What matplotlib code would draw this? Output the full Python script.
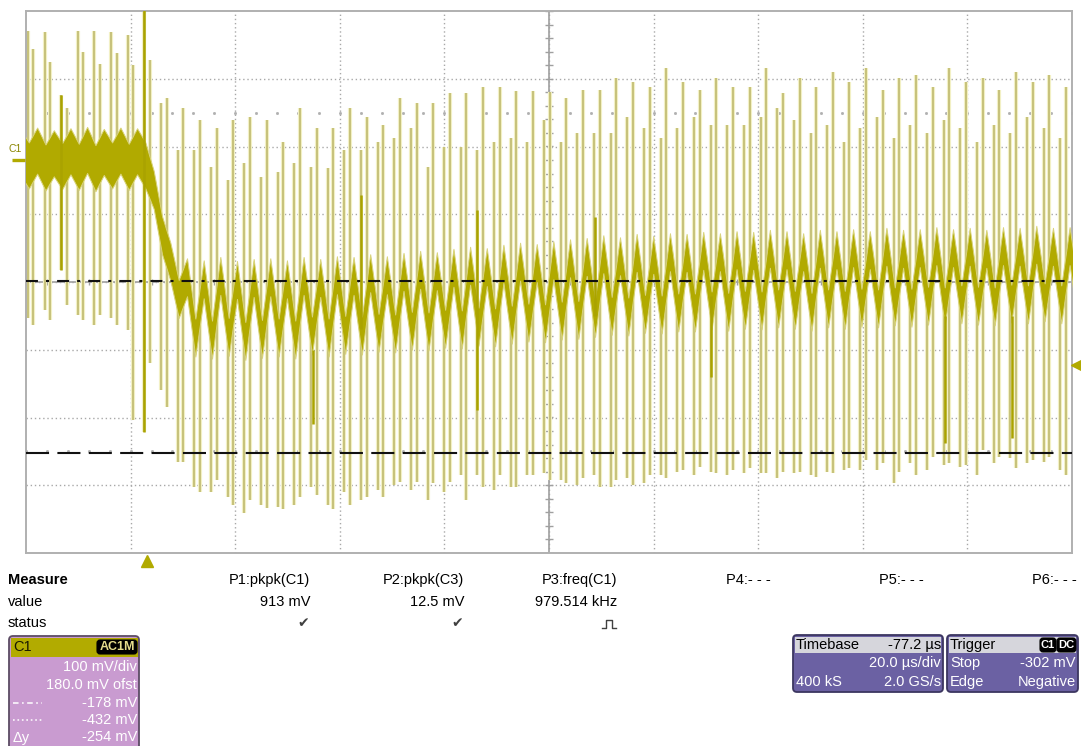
"""LeCroy-style scope capture: C1 ripple stepping down after the trigger, plus the measure panel."""
import numpy as np
import matplotlib
matplotlib.use("Agg")
import matplotlib.pyplot as plt
import matplotlib.patheffects as pe
from matplotlib.patches import FancyBboxPatch, Rectangle

plt.rcParams["font.family"] = ["Liberation Sans", "DejaVu Sans"]
plt.rcParams["lines.scale_dashes"] = False

W, H = 1081, 746

# scope settings
V_DIV, V_OFST = 100.0, 180.0          # mV/div, offset (screen centre = -offset)
T_DIV, T_LEFT = 20.0, -23.14          # us/div, time at left edge (trigger at 0)
V_CURSOR1, V_CURSOR2 = -178.0, -432.0
V_TRIG = -302.0

# ripple teeth (one per ~3.18 us), centre of the trace at each peak / following trough, mV
TOOTH_T0, TOOTH_PERIOD = 7.65, 3.184
tooth_k = np.arange(-10, 54)
peak_mv = [12, 14, 10, 13, 15, 12, 14, 13,
           -44, -150,
           -173, -176, -171, -177, -174, -173, -176, -171, -174, -170,
           -171, -167, -170, -165, -162, -164, -159, -156, -158, -153,
           -150, -152, -148, -145, -143, -139, -142, -137, -140, -136,
           -137, -134, -136, -133, -134, -131, -133, -136, -131, -133,
           -130, -133, -128, -131, -130, -127, -130, -128, -131, -127, -128, -125, -128, -127]
trough_mv = [-8, -11, -9, -10, -12, -8, -10, -8,
             -111, -205,
             -262, -265, -261, -267, -264, -262, -265, -259, -262, -258,
             -259, -255, -256, -252, -253, -249, -250, -246, -247, -243,
             -240, -241, -237, -236, -233, -230, -231, -227, -228, -225,
             -225, -222, -224, -221, -222, -219, -221, -224, -219, -221,
             -218, -219, -216, -218, -215, -216, -213, -215, -216, -212, -213, -210, -213, -212]

# switching spikes, a pair per tooth: tops / bottoms in mV
spike_a_top = [190, 190, 189, 96, 190, 190, 189, 185,
               230, 84,
               15, 15, -10, -29, -4, -25, -18, -4, -10, -12,
               15, 15, 27, 33, 47, -10, 19, 19, 15, 27,
               33, 27, 59, 27, 40, 40, 40, 64, 47, 33,
               47, 64, 52, 52, 52, 64, 77,
               59, 40, 52, 27, 47, 64, 33, 52, 40, 59, 47, 27, 52, 40, 64, 47, 33]
spike_b_top = [160, 164, 145, 77, 160, 142, 158, 140,
               148, 92,
               77, 59, 47, 59, 64, 59, 27, 77, 47, 47,
               77, 64, 52, 92, 84, 84, 99, 99, 108, 108,
               102, 102, 100, 92, 103, 103, 121, 115, 108, 136,
               115, 103, 121, 108, 108, 136, 99,
               121, 108, 130, 115, 136, 103, 121, 126, 108, 136, 115, 121, 103, 130, 115, 126, 108]
spike_a_bot = [-236, -233, -221, -162, -229, -243, -233, -251,
               -401, -339,
               -446, -483, -490, -497, -521, -509, -512, -509, -483, -509,
               -490, -502, -487, -479, -487, -502, -490, -465, -465, -487,
               -483, -465, -462, -472, -479, -465, -483, -469, -476, -465,
               -460, -465, -460, -465, -462, -462, -469,
               -462, -465, -460, -457,
               -457, -457, -476, -447, -457, -450, -453, -465, -447, -440, -447, -446, -457]
spike_b_bot = [-229, -243, -236, -214, -236, -229, -243, -384,
               -300, -364,
               -446, -490, -472, -509, -502, -514, -515, -497, -494, -515,
               -509, -497, -497, -475, -475, -476, -475, -502, -483, -465,
               -483, -465, -472, -476, -469, -483, -472, -479, -465, -469,
               -457, -453, -462, -457, -455, -462, -460,
               -460, -468, -462, -455,
               -443, -447, -460, -465, -438, -447, -450, -428, -438, -455, -443, -438, -465]

# heavier excursions of the trace itself (trigger event included)
glitch_t = [-16.4, -0.5, 31.7, 40.9, 63.1, 85.7, 107.8, 152.6, 165.4]
glitch_lo = [-162, -401, -390, -250, -369, -230, -320, -418, -410]
glitch_hi = [96, 230, -280, -52, -74, -84, -200, -230, -230]

measure_names = ["P1:pkpk(C1)", "P2:pkpk(C3)", "P3:freq(C1)", "P4:- - -", "P5:- - -", "P6:- - -"]
measure_values = ["913 mV", "12.5 mV", "979.514 kHz", "", "", ""]
measure_status = ["check", "check", "pulse", "", "", ""]

c1_rows = ["100 mV/div", "180.0 mV ofst", "-178 mV", "-432 mV", "-254 mV"]

OLIVE = "#b1aa00"
SPIKE = "#bab567"
GLOW = "#f2f0c4"
GRID = "#a8a8a8"

fig = plt.figure(figsize=(W / 100, H / 100), dpi=100)
fig.patch.set_facecolor("white")

# ---- screen ----
L, R, T, B = 26, 1072, 11, 553
ax = fig.add_axes([L / W, 1 - B / H, (R - L) / W, (B - T) / H])
t_right = T_LEFT + 10 * T_DIV
v_mid = -V_OFST
v_bot, v_top = v_mid - 4 * V_DIV, v_mid + 4 * V_DIV
ax.set_xlim(T_LEFT, t_right)
ax.set_ylim(v_bot, v_top)
ax.set_xticks(T_LEFT + T_DIV * np.arange(1, 10))
ax.set_yticks(v_mid + V_DIV * np.arange(-3, 4))
ax.tick_params(length=0, labelbottom=False, labelleft=False)
ax.grid(True, color=GRID, lw=1.0, linestyle=(0, (1, 2)), zorder=0)
ax.set_axisbelow(True)
for s in ax.spines.values():
    s.set_color("#b0b0b0")
    s.set_linewidth(1.4)

# centre cross with 0.2 div ticks
t_mid = T_LEFT + 5 * T_DIV
ax.axvline(t_mid, color="#a0a0a0", lw=1.2, zorder=1)
ax.axhline(v_mid, color="#a0a0a0", lw=1.2, zorder=1)
sub_v = v_mid + V_DIV * np.arange(-4, 4.01, 0.2)
sub_t = T_LEFT + T_DIV * np.arange(0, 10.01, 0.2)
ax.hlines(sub_v, t_mid - 0.7, t_mid + 0.7, color="#a0a0a0", lw=1.0, zorder=1)
ax.vlines(sub_t, v_mid - 5, v_mid + 5, color="#a0a0a0", lw=1.0, zorder=1)
for vv in (v_mid + 2.5 * V_DIV, v_mid - 2.5 * V_DIV):
    ax.plot(sub_t, np.full(len(sub_t), vv), ls="none", marker="s", ms=1.0,
            color="#b0b0b0", zorder=1)

# spikes (behind the trace band)
peak_t = TOOTH_T0 + TOOTH_PERIOD * tooth_k
pair_t = peak_t - 1.24
spike_t = np.concatenate([pair_t - 0.54, pair_t + 0.54])
spike_top = np.concatenate([spike_a_top, spike_b_top])
spike_bot = np.concatenate([spike_a_bot, spike_b_bot])
sp = ax.vlines(spike_t, spike_bot, spike_top, color=SPIKE, lw=1.1, zorder=2)
sp.set_path_effects([pe.Stroke(linewidth=3.0, foreground=GLOW), pe.Normal()])

# ripple band
trace_t = np.ravel(np.column_stack([peak_t, peak_t + TOOTH_PERIOD / 2]))
trace_v = np.ravel(np.column_stack([peak_mv, trough_mv]))
half = np.where(trace_t < 0, 34.0, 28.0)
ax.fill_between(trace_t, trace_v - half, trace_v + half, facecolor=OLIVE,
                edgecolor="#d8d37a", lw=0.7, zorder=4)
ax.vlines(glitch_t, glitch_lo, glitch_hi, color="#aaa300", lw=1.8, zorder=4)

# cursors
ax.axhline(V_CURSOR1, color="#111111", lw=1.5, dashes=(8.6, 5.8, 2.2, 5.8), zorder=6)
ax.axhline(V_CURSOR2, color="#111111", lw=1.5, dashes=(16.6, 6.0), zorder=6)

# trigger markers
ax.plot(0, v_bot - 12, marker="^", ms=8, color=OLIVE, clip_on=False, zorder=7)
ax.plot(t_right + 1.0, V_TRIG, marker="<", ms=8, color=OLIVE, clip_on=False, zorder=7)

# ---- overlay in pixel coordinates ----
ov = fig.add_axes([0, 0, 1, 1], zorder=10)
ov.set_xlim(0, W)
ov.set_ylim(H, 0)
ov.axis("off")
ov.patch.set_visible(False)

FS = 10.5
ov.text(15, 149, "C1", fontsize=7.5, color="#8a8500", ha="center", va="center")
ov.plot([12, 25], [160, 160], color=OLIVE, lw=2.4, solid_capstyle="butt")

# measure table
ov.text(8, 580, "Measure", fontsize=FS, fontweight="bold", va="center")
ov.text(8, 602, "value", fontsize=FS, va="center")
ov.text(8, 623, "status", fontsize=FS, va="center")
col_right = [310, 464, 617, 771, 924, 1077]
for xr, name, val, st in zip(col_right, measure_names, measure_values, measure_status):
    ov.text(xr, 580, name, fontsize=FS, ha="right", va="center")
    if val:
        ov.text(xr, 602, val, fontsize=FS, ha="right", va="center")
    if st == "check":
        ov.text(xr - 1, 623, "\u2714", fontsize=10, ha="right", va="center",
                color="#404040", family="DejaVu Sans")
    elif st == "pulse":
        px = [xr - 15, xr - 11, xr - 11, xr - 5, xr - 5, xr - 1]
        py = [628, 628, 620, 620, 628, 628]
        ov.plot(px, py, color="#404040", lw=1.0)


def box(x, y, w, h, face, edge):
    ov.add_patch(FancyBboxPatch((x, y), w, h, boxstyle="round,pad=0,rounding_size=4",
                                facecolor=face, edgecolor=edge, lw=1.3))


def badge(x, y, w, h, label, color, size=9.5):
    ov.add_patch(FancyBboxPatch((x, y), w, h, boxstyle="round,pad=0,rounding_size=3",
                                facecolor="black", edgecolor="black", lw=0.8))
    ov.text(x + w / 2, y + h / 2 + 0.5, label, fontsize=size, color=color,
            ha="center", va="center", fontweight="bold")


# C1 channel box
box(9, 636, 130, 125, "#c99bd0", "#5c4c64")
ov.add_patch(Rectangle((10.5, 637.5), 127, 19, facecolor="#b2ab00", edgecolor="none"))
ov.text(13, 647, "C1", fontsize=FS, color="#1a1a00", va="center")
badge(97, 640, 40, 14, "AC1M", "#e6dd8c", size=9)
for yy, txt in zip([667, 685, 703, 720, 737], c1_rows):
    ov.text(137, yy, txt, fontsize=FS, color="white", ha="right", va="center")
ov.plot([13, 42], [703, 703], color="white", lw=1.1, dashes=(4, 2.5, 1.2, 2.5))
ov.plot([13, 42], [720, 720], color="white", lw=1.1, dashes=(1.2, 2.0))
ov.text(13, 738, "\u0394y", fontsize=FS, color="white", va="center")

# timebase box
box(793, 635, 150, 57, "#6b61a3", "#3c3660")
ov.add_patch(Rectangle((795, 637), 146, 16, facecolor="#d6d6dc", edgecolor="none"))
ov.text(796, 645, "Timebase", fontsize=FS, va="center")
ov.text(941, 645, "-77.2 \u00b5s", fontsize=FS, ha="right", va="center")
ov.text(941, 663, "20.0 \u00b5s/div", fontsize=FS, color="white", ha="right", va="center")
ov.text(796, 682, "400 kS", fontsize=FS, color="white", va="center")
ov.text(941, 682, "2.0 GS/s", fontsize=FS, color="white", ha="right", va="center")

# trigger box
box(947, 635, 131, 57, "#6b61a3", "#3c3660")
ov.add_patch(Rectangle((949, 637), 127, 16, facecolor="#d6d6dc", edgecolor="none"))
ov.text(950, 645, "Trigger", fontsize=FS, va="center")
badge(1040, 638, 16, 14, "C1", "white", size=8)
badge(1057, 638, 19, 14, "DC", "white", size=8)
ov.text(950, 663, "Stop", fontsize=FS, color="white", va="center")
ov.text(1076, 663, "-302 mV", fontsize=FS, color="white", ha="right", va="center")
ov.text(950, 682, "Edge", fontsize=FS, color="white", va="center")
ov.text(1076, 682, "Negative", fontsize=FS, color="white", ha="right", va="center")

fig.savefig("out.png", dpi=100)
print("Saved out.png")
